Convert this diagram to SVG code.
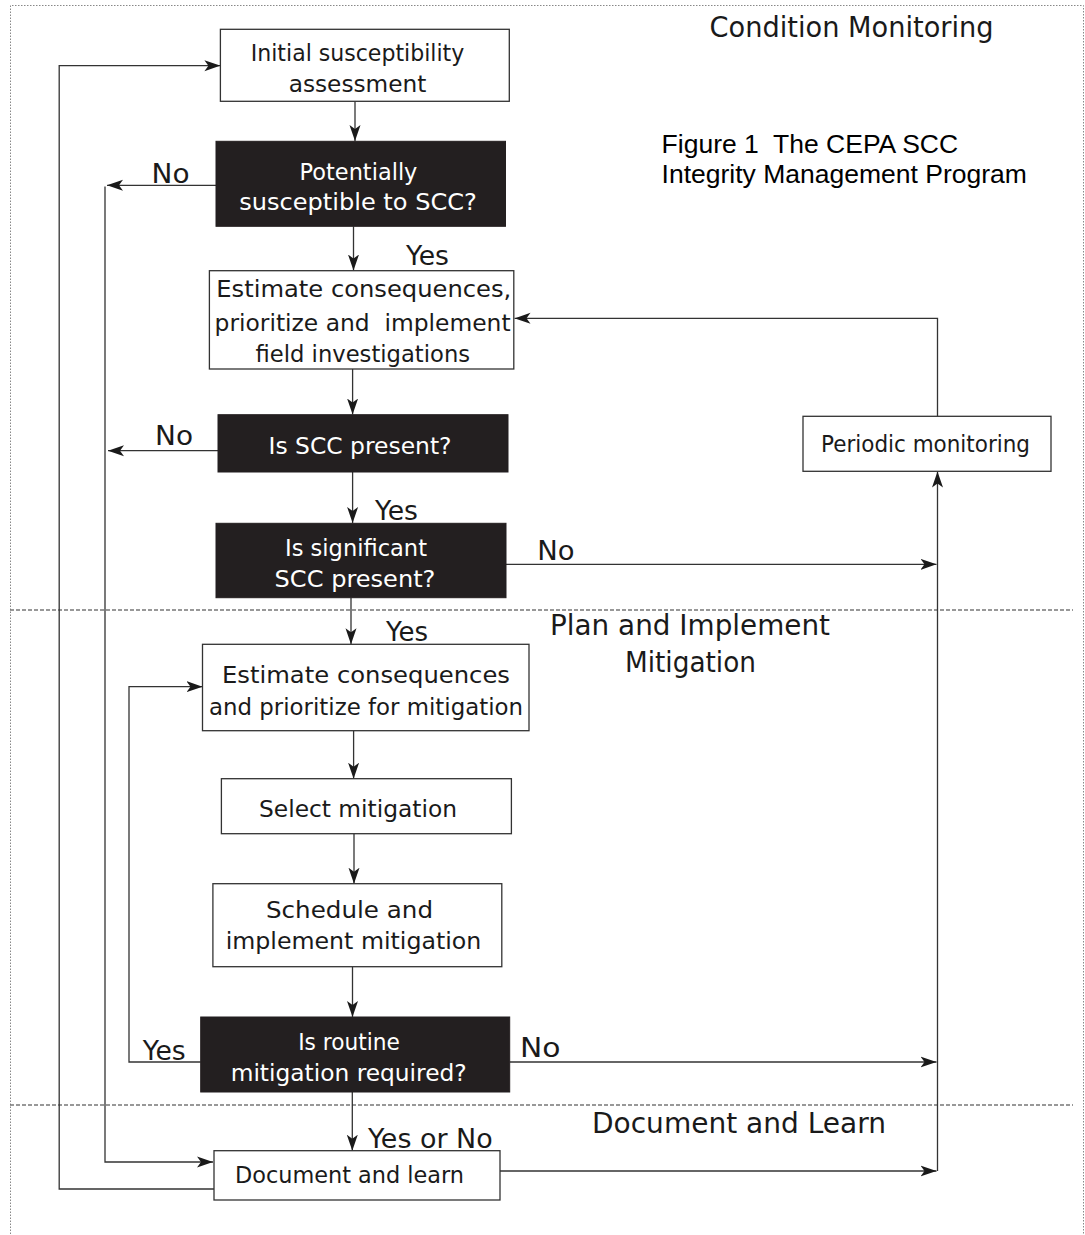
<svg xmlns="http://www.w3.org/2000/svg" width="1085" height="1235" viewBox="0 0 1085 1235">
<style>
.bg{fill:#ffffff}
.box{fill:#ffffff;stroke:#333333;stroke-width:1.3}
.dark{fill:#231f20;stroke:#231f20;stroke-width:1}
.t{font-family:"DejaVu Sans","Liberation Sans",sans-serif;font-size:23px;fill:#1a1a1a;text-anchor:middle}
.tw{font-family:"DejaVu Sans","Liberation Sans",sans-serif;font-size:23px;fill:#ffffff;text-anchor:middle}
.lbl{font-family:"DejaVu Sans","Liberation Sans",sans-serif;font-size:26px;fill:#1a1a1a}
.sec{font-family:"DejaVu Sans","Liberation Sans",sans-serif;font-size:28px;fill:#1a1a1a}
.title{font-family:"Liberation Sans",Arial,sans-serif;font-size:26.5px;fill:#000000}
.ln{fill:none;stroke:#333333;stroke-width:1.3}
.arr{fill:none;stroke:#333333;stroke-width:1.3;marker-end:url(#ah)}
.border{fill:none;stroke:#888888;stroke-width:1;stroke-dasharray:1.5 1.5}
.sep{fill:none;stroke:#777777;stroke-width:1.3;stroke-dasharray:4 2}
</style>
<defs>
<marker id="ah" markerWidth="16" markerHeight="12" refX="16" refY="6" orient="auto" markerUnits="userSpaceOnUse">
<path d="M0,0.5 L16,6 L0,11.5 L4,6 z" fill="#1a1a1a"/>
</marker>
</defs>
<rect class="bg" x="0" y="0" width="1085" height="1235"/>

<g id="frame">
<path class="border" d="M10.5,1240 V5.5 H1083.5 V1240"/>
<line class="sep" x1="10" y1="610" x2="1073" y2="610"/>
<line class="sep" x1="10" y1="1105" x2="1073" y2="1105"/>
</g>

<g id="section-labels">
<text class="sec" x="709.6" y="36.7" textLength="284" lengthAdjust="spacingAndGlyphs">Condition Monitoring</text>
<text class="sec" x="550" y="635" textLength="280" lengthAdjust="spacingAndGlyphs">Plan and Implement</text>
<text class="sec" x="625" y="671.7" textLength="131" lengthAdjust="spacingAndGlyphs">Mitigation</text>
<text class="sec" x="592" y="1132.7" textLength="294" lengthAdjust="spacingAndGlyphs">Document and Learn</text>
</g>

<g id="title">
<text class="title" x="661.6" y="153.3" xml:space="preserve">Figure 1  The CEPA SCC</text>
<text class="title" x="661.6" y="183.3">Integrity Management Program</text>
</g>

<g id="connectors">
<line class="arr" x1="355" y1="101.3" x2="355" y2="141"/>
<line class="arr" x1="353.5" y1="226.3" x2="353.5" y2="270.5"/>
<line class="arr" x1="352.6" y1="369" x2="352.6" y2="414.5"/>
<line class="arr" x1="352.6" y1="472" x2="352.6" y2="523"/>
<line class="arr" x1="351" y1="597.7" x2="351" y2="644.3"/>
<line class="arr" x1="353.6" y1="730.7" x2="353.6" y2="778.7"/>
<line class="arr" x1="354" y1="833.7" x2="354" y2="883.7"/>
<line class="arr" x1="352.5" y1="966.7" x2="352.5" y2="1017"/>
<line class="arr" x1="352.3" y1="1092" x2="352.3" y2="1150.7"/>
<line class="arr" x1="216" y1="185.3" x2="107" y2="185.3"/>
<line class="arr" x1="218" y1="450.7" x2="108" y2="450.7"/>
<path class="arr" d="M105,186.5 V1162 H213"/>
<path class="arr" d="M214,1189 H59.2 V65.7 H220.4"/>
<line class="arr" x1="506" y1="564.3" x2="936.5" y2="564.3"/>
<line class="arr" x1="509.7" y1="1062" x2="936.5" y2="1062"/>
<line class="arr" x1="500" y1="1171" x2="936.5" y2="1171"/>
<line class="arr" x1="937.5" y1="1171" x2="937.5" y2="471.5"/>
<path class="arr" d="M937.5,416.3 V318.3 H514.5"/>
<path class="arr" d="M200.7,1062 H129 V686.7 H202.5"/>
</g>

<g id="connector-labels">
<text class="lbl" x="151.5" y="182.7" textLength="38" lengthAdjust="spacingAndGlyphs">No</text>
<text class="lbl" x="406" y="265" textLength="43" lengthAdjust="spacingAndGlyphs">Yes</text>
<text class="lbl" x="155" y="445" textLength="38" lengthAdjust="spacingAndGlyphs">No</text>
<text class="lbl" x="375" y="520" textLength="43" lengthAdjust="spacingAndGlyphs">Yes</text>
<text class="lbl" x="537.3" y="560" textLength="37.3" lengthAdjust="spacingAndGlyphs">No</text>
<text class="lbl" x="386" y="640.7" textLength="42" lengthAdjust="spacingAndGlyphs">Yes</text>
<text class="lbl" x="142.7" y="1060" textLength="43" lengthAdjust="spacingAndGlyphs">Yes</text>
<text class="lbl" x="520" y="1056.7" textLength="40.5" lengthAdjust="spacingAndGlyphs">No</text>
<text class="lbl" x="368" y="1147.7" textLength="124.7" lengthAdjust="spacingAndGlyphs">Yes or No</text>
</g>

<g id="initial-assessment">
<rect class="box" x="220.4" y="29.3" width="288.9" height="72"/>
<text class="t" x="357.5" y="61" textLength="213.5" lengthAdjust="spacingAndGlyphs">Initial susceptibility</text>
<text class="t" x="357.5" y="91.7" textLength="137.7" lengthAdjust="spacingAndGlyphs">assessment</text>
</g>

<g id="potentially-susceptible">
<rect class="dark" x="216" y="141.3" width="289.5" height="85"/>
<text class="tw" x="358.5" y="180" textLength="117.8" lengthAdjust="spacingAndGlyphs">Potentially</text>
<text class="tw" x="358" y="210" textLength="237.6" lengthAdjust="spacingAndGlyphs">susceptible to SCC?</text>
</g>

<g id="estimate-investigations">
<rect class="box" x="209.4" y="270.7" width="304.4" height="98.3"/>
<text class="t" x="363.8" y="296.7" textLength="295" lengthAdjust="spacingAndGlyphs">Estimate consequences,</text>
<text class="t" x="362.6" y="330.7" textLength="296" lengthAdjust="spacingAndGlyphs" xml:space="preserve">prioritize and  implement</text>
<text class="t" x="362.8" y="362" textLength="214.5" lengthAdjust="spacingAndGlyphs">field investigations</text>
</g>

<g id="scc-present">
<rect class="dark" x="218" y="414.7" width="290" height="57.3"/>
<text class="tw" x="360" y="454" textLength="183" lengthAdjust="spacingAndGlyphs">Is SCC present?</text>
</g>

<g id="significant-scc">
<rect class="dark" x="216" y="523.3" width="290" height="74.4"/>
<text class="tw" x="356" y="555.7" textLength="142" lengthAdjust="spacingAndGlyphs">Is significant</text>
<text class="tw" x="355" y="586.7" textLength="160.8" lengthAdjust="spacingAndGlyphs">SCC present?</text>
</g>

<g id="periodic-monitoring">
<rect class="box" x="803" y="416.3" width="248" height="55"/>
<text class="t" x="925.5" y="451.7" textLength="209" lengthAdjust="spacingAndGlyphs">Periodic monitoring</text>
</g>

<g id="estimate-mitigation">
<rect class="box" x="202.5" y="644.3" width="326.5" height="86.4"/>
<text class="t" x="366" y="682.7" textLength="288" lengthAdjust="spacingAndGlyphs">Estimate consequences</text>
<text class="t" x="366" y="715" textLength="314" lengthAdjust="spacingAndGlyphs">and prioritize for mitigation</text>
</g>

<g id="select-mitigation">
<rect class="box" x="221.4" y="778.7" width="290" height="55"/>
<text class="t" x="358" y="817" textLength="198" lengthAdjust="spacingAndGlyphs">Select mitigation</text>
</g>

<g id="schedule-mitigation">
<rect class="box" x="212.9" y="883.7" width="288.9" height="83"/>
<text class="t" x="349.5" y="918" textLength="167" lengthAdjust="spacingAndGlyphs">Schedule and</text>
<text class="t" x="353.5" y="949" textLength="255.7" lengthAdjust="spacingAndGlyphs">implement mitigation</text>
</g>

<g id="routine-mitigation">
<rect class="dark" x="200.7" y="1017" width="309" height="75"/>
<text class="tw" x="349" y="1050" textLength="101.7" lengthAdjust="spacingAndGlyphs">Is routine</text>
<text class="tw" x="348.7" y="1081" textLength="236" lengthAdjust="spacingAndGlyphs">mitigation required?</text>
</g>

<g id="document-learn">
<rect class="box" x="214" y="1150.7" width="286" height="49.3"/>
<text class="t" x="349.5" y="1183" textLength="229" lengthAdjust="spacingAndGlyphs">Document and learn</text>
</g>
</svg>
